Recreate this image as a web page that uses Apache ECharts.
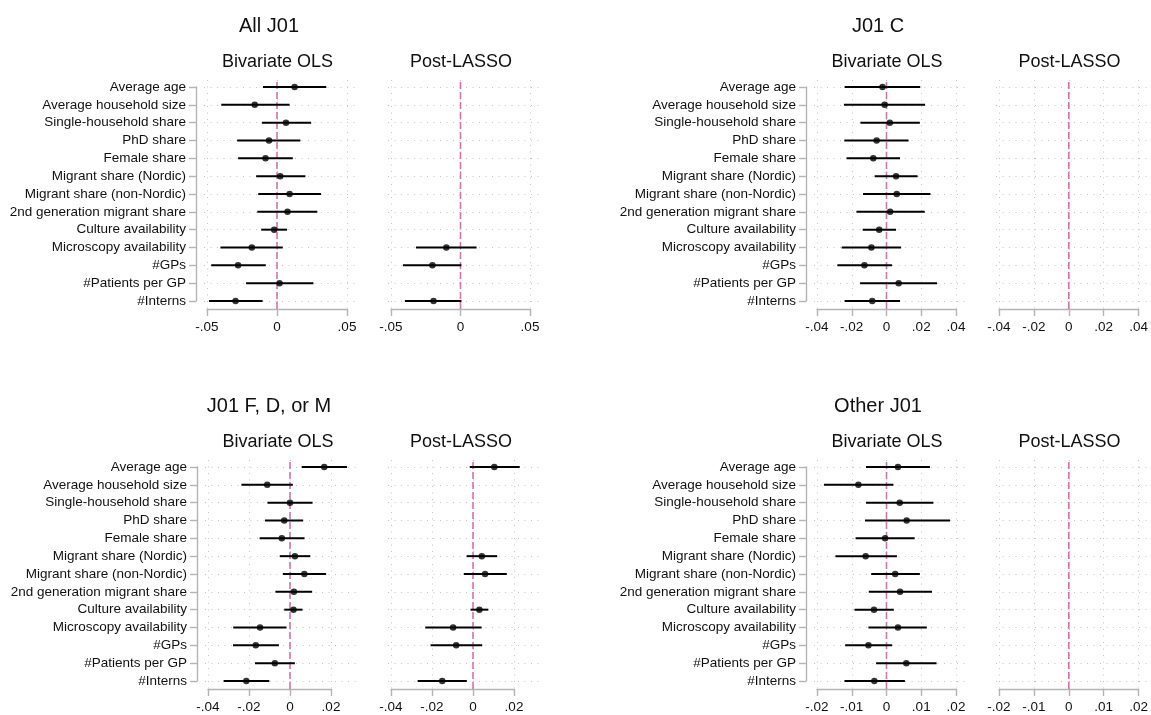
<!DOCTYPE html>
<html>
<head>
<meta charset="utf-8">
<script src="https://cdn.jsdelivr.net/npm/echarts@6/dist/echarts.min.js"></script>
<style>
html,body{margin:0;padding:0;background:#fff;}
#chart{width:1151px;height:715px;}
</style>
</head>
<body>
<div id="chart"></div>
<script>
// ---------------- DATA ----------------
const categories = [
  "Average age", "Average household size", "Single-household share", "PhD share",
  "Female share", "Migrant share (Nordic)", "Migrant share (non-Nordic)",
  "2nd generation migrant share", "Culture availability", "Microscopy availability",
  "#GPs", "#Patients per GP", "#Interns"
];
const modelNames = ["Bivariate OLS", "Post-LASSO"];
const panelTitles = ["All J01", "J01 C", "J01 F, D, or M", "Other J01"];

// All J01
const allJ01_ols_est = [0.0126, -0.0159, 0.0064, -0.0057, -0.0082, 0.0023, 0.0090, 0.0075, -0.0020, -0.0180, -0.0278, 0.0018, -0.0296];
const allJ01_ols_lo  = [-0.0100, -0.0398, -0.0108, -0.0285, -0.0278, -0.0149, -0.0134, -0.0141, -0.0113, -0.0404, -0.0470, -0.0221, -0.0486];
const allJ01_ols_hi  = [0.0352, 0.0090, 0.0244, 0.0167, 0.0113, 0.0203, 0.0314, 0.0288, 0.0072, 0.0041, -0.0080, 0.0260, -0.0103];
const allJ01_lasso_est = [null, null, null, null, null, null, null, null, null, -0.0102, -0.0202, null, -0.0194];
const allJ01_lasso_lo  = [null, null, null, null, null, null, null, null, null, -0.0320, -0.0414, null, -0.0400];
const allJ01_lasso_hi  = [null, null, null, null, null, null, null, null, null, 0.0115, 0.0006, null, 0.0007];
const allJ01_ticks = [-0.05, 0, 0.05];

// J01 C
const j01C_ols_est = [-0.0023, -0.0011, 0.0019, -0.0057, -0.0076, 0.0055, 0.0059, 0.0021, -0.0042, -0.0087, -0.0127, 0.0070, -0.0082];
const j01C_ols_lo  = [-0.0241, -0.0245, -0.0150, -0.0243, -0.0230, -0.0068, -0.0135, -0.0173, -0.0137, -0.0258, -0.0283, -0.0152, -0.0241];
const j01C_ols_hi  = [0.0194, 0.0222, 0.0192, 0.0127, 0.0078, 0.0179, 0.0253, 0.0220, 0.0055, 0.0084, 0.0032, 0.0291, 0.0078];
const j01C_lasso_est = [null, null, null, null, null, null, null, null, null, null, null, null, null];
const j01C_lasso_lo  = [null, null, null, null, null, null, null, null, null, null, null, null, null];
const j01C_lasso_hi  = [null, null, null, null, null, null, null, null, null, null, null, null, null];
const j01C_ticks = [-0.04, -0.02, 0, 0.02, 0.04];

// J01 F, D, or M
const j01FDM_ols_est = [0.0167, -0.0111, 0.0000, -0.0028, -0.0040, 0.0024, 0.0070, 0.0019, 0.0017, -0.0146, -0.0167, -0.0074, -0.0213];
const j01FDM_ols_lo  = [0.0057, -0.0237, -0.0110, -0.0122, -0.0148, -0.0050, -0.0035, -0.0071, -0.0028, -0.0277, -0.0278, -0.0171, -0.0324];
const j01FDM_ols_hi  = [0.0278, 0.0014, 0.0110, 0.0064, 0.0071, 0.0099, 0.0176, 0.0108, 0.0061, -0.0017, -0.0054, 0.0024, -0.0101];
const j01FDM_lasso_est = [0.0104, null, null, null, null, 0.0043, 0.0059, null, 0.0031, -0.0097, -0.0082, null, -0.0150];
const j01FDM_lasso_lo  = [-0.0016, null, null, null, null, -0.0031, -0.0045, null, -0.0012, -0.0233, -0.0207, null, -0.0270];
const j01FDM_lasso_hi  = [0.0228, null, null, null, null, 0.0118, 0.0165, null, 0.0075, 0.0042, 0.0045, null, -0.0030];
const j01FDM_ticks = [-0.04, -0.02, 0, 0.02];

// Other J01
const other_ols_est = [0.0033, -0.0081, 0.0038, 0.0058, -0.0004, -0.0060, 0.0025, 0.0039, -0.0036, 0.0033, -0.0052, 0.0057, -0.0035];
const other_ols_lo  = [-0.0059, -0.0180, -0.0059, -0.0062, -0.0089, -0.0147, -0.0044, -0.0051, -0.0092, -0.0052, -0.0119, -0.0030, -0.0121];
const other_ols_hi  = [0.0125, 0.0020, 0.0135, 0.0183, 0.0081, 0.0030, 0.0096, 0.0131, 0.0021, 0.0116, 0.0016, 0.0144, 0.0053];
const other_lasso_est = [null, null, null, null, null, null, null, null, null, null, null, null, null];
const other_lasso_lo  = [null, null, null, null, null, null, null, null, null, null, null, null, null];
const other_lasso_hi  = [null, null, null, null, null, null, null, null, null, null, null, null, null];
const other_ticks = [-0.02, -0.01, 0, 0.01, 0.02];

// ---------------- LAYOUT ----------------
const FONT = '"Liberation Sans", Arial, Helvetica, sans-serif';
const TEXT = '#111111';
const AXIS = '#b4b4b4';
const GRIDC = '#c4c4c4';
const PINK = '#d373ad';

const panels = [
  { title: panelTitles[0], ticks: allJ01_ticks, top: 0,   titleX: 269, tickPx: [[207, 347], [391, 530]],
    models: [[allJ01_ols_est, allJ01_ols_lo, allJ01_ols_hi], [allJ01_lasso_est, allJ01_lasso_lo, allJ01_lasso_hi]] },
  { title: panelTitles[1], ticks: j01C_ticks, top: 0,     titleX: 878, tickPx: [[817, 956], [999, 1139]],
    models: [[j01C_ols_est, j01C_ols_lo, j01C_ols_hi], [j01C_lasso_est, j01C_lasso_lo, j01C_lasso_hi]] },
  { title: panelTitles[2], ticks: j01FDM_ticks, top: 380, titleX: 269, tickPx: [[208, 331], [391, 514]],
    models: [[j01FDM_ols_est, j01FDM_ols_lo, j01FDM_ols_hi], [j01FDM_lasso_est, j01FDM_lasso_lo, j01FDM_lasso_hi]] },
  { title: panelTitles[3], ticks: other_ticks, top: 380,  titleX: 878, tickPx: [[817, 956], [999, 1139]],
    models: [[other_ols_est, other_ols_lo, other_ols_hi], [other_lasso_est, other_lasso_lo, other_lasso_hi]] }
];

function fmtTick(v) {
  const r = Math.round(v * 1000) / 1000;
  if (Math.abs(r) < 1e-9) return '0';
  let s = String(r);
  return s.replace(/^(-?)0\./, '$1.');
}

const grid = [], xAxis = [], yAxis = [], series = [], graphic = [];
let gi = 0;

panels.forEach(p => {
  const tmin = p.ticks[0], tmax = p.ticks[p.ticks.length - 1];
  const interval = p.ticks[1] - p.ticks[0];
  const ppu = (p.tickPx[0][1] - p.tickPx[0][0]) / (tmax - tmin);
  let dmin = Infinity, dmax = -Infinity;
  p.models.forEach(m => {
    m[1].forEach(v => { if (v != null) dmin = Math.min(dmin, v); });
    m[2].forEach(v => { if (v != null) dmax = Math.max(dmax, v); });
  });
  const lo = Math.min(tmin, dmin), hi = Math.max(tmax, dmax);
  const rMin = lo - 3 / ppu, rMax = hi + 10 / ppu;

  graphic.push({ type: 'text', x: p.titleX, y: p.top + 26,
    style: { text: p.title, font: '20px ' + FONT, fill: TEXT, textAlign: 'center', textVerticalAlign: 'middle' } });

  p.models.forEach((m, s) => {
    const tL = p.tickPx[s][0], tR = p.tickPx[s][1];
    const regL = tL - (tmin - rMin) * ppu;
    const regR = tR + (rMax - tmax) * ppu;

    graphic.push({ type: 'text', x: (regL + regR) / 2 - 3, y: p.top + 62,
      style: { text: modelNames[s], font: '18px ' + FONT, fill: TEXT, textAlign: 'center', textVerticalAlign: 'middle' } });

    // tick grid (axis line, ticks, labels, vertical gridlines, zero line)
    const tG = gi++;
    grid.push({ left: tL, width: tR - tL, top: p.top + 80, height: 229, containLabel: false });
    xAxis.push({ gridIndex: tG, type: 'value', min: tmin, max: tmax, interval: interval,
      axisLine: { show: true, onZero: false, lineStyle: { color: AXIS, width: 1.4 } },
      axisTick: { show: true, length: 7, lineStyle: { color: AXIS, width: 1.4 } },
      axisLabel: { formatter: fmtTick, fontFamily: FONT, fontSize: 13.5, color: TEXT, margin: 11, showMinLabel: true, showMaxLabel: true },
      splitLine: { show: true, lineStyle: { color: GRIDC, width: 1, type: [1, 5.5] } } });
    yAxis.push({ gridIndex: tG, type: 'value', min: 0, max: 1, show: false, axisLine: { onZero: false } });
    series.push({ type: 'line', xAxisIndex: tG, yAxisIndex: tG, data: [[0, 0], [0, 1]], symbol: 'none', silent: true,
      clip: false, lineStyle: { color: PINK, width: 1.6, type: [7, 3] }, z: 3 });

    // data grid
    const dG = gi++;
    grid.push({ left: regL, width: regR - regL, top: p.top + 87, height: 214, containLabel: false });
    xAxis.push({ gridIndex: dG, type: 'value', min: rMin, max: rMax, show: false, axisLine: { onZero: false } });
    yAxis.push({ gridIndex: dG, type: 'category', data: categories, inverse: true, boundaryGap: false, offset: 8,
      axisLine: { show: s === 0, onZero: false, lineStyle: { color: AXIS, width: 1.4 } },
      axisTick: { show: s === 0, length: 7, interval: 0, lineStyle: { color: AXIS, width: 1.4 } },
      axisLabel: { show: s === 0, interval: 0, fontFamily: FONT, fontSize: 13.5, color: TEXT, margin: 10 },
      splitLine: { show: true, interval: 0, lineStyle: { color: GRIDC, width: 1, type: [1, 5.5] } } });

    const ciData = [], ptData = [];
    m[0].forEach((v, i) => {
      if (v != null) ptData.push([v, i]);
      if (m[1][i] != null && m[2][i] != null) ciData.push([m[1][i], m[2][i], i]);
    });
    series.push({ type: 'custom', xAxisIndex: dG, yAxisIndex: dG, data: ciData, z: 4, silent: true,
      encode: { x: [0, 1], y: 2 },
      renderItem: function (params, api) {
        const a = api.coord([api.value(0), api.value(2)]);
        const b = api.coord([api.value(1), api.value(2)]);
        return { type: 'line', shape: { x1: a[0], y1: a[1], x2: b[0], y2: b[1] },
          style: { stroke: '#000', lineWidth: 2 } };
      } });
    series.push({ type: 'scatter', xAxisIndex: dG, yAxisIndex: dG, data: ptData, symbol: 'circle', symbolSize: 6.5,
      itemStyle: { color: '#000' }, z: 5, silent: true });
  });
});

const chart = echarts.init(document.getElementById('chart'), null, { renderer: 'canvas' });
chart.setOption({ animation: false, backgroundColor: '#fff', grid, xAxis, yAxis, series, graphic });
</script>
</body>
</html>
